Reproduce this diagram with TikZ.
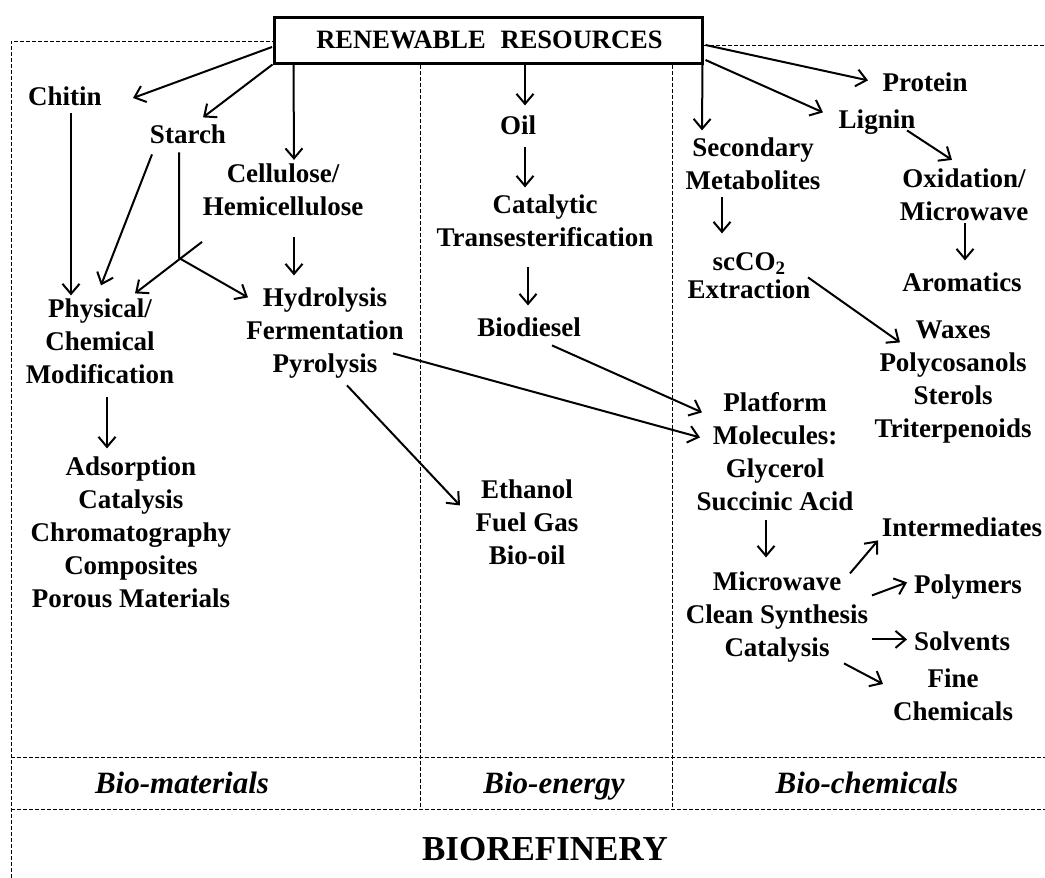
\documentclass[tikz,border=0pt]{standalone}
\usepackage{fontspec}
\setmainfont{Liberation Serif}
\usetikzlibrary{arrows.meta,calc}
\tikzset{
  txt/.style={font=\bfseries\fontsize{27}{33}\selectfont, align=center, inner sep=0pt,
    execute at begin node=\strut, execute at end node=\strut},
  lbl/.style={font=\bfseries\itshape\fontsize{31}{36}\selectfont, inner sep=0pt, anchor=base},
  arr/.style={-{Straight Barb[length=10pt,width=17pt,line width=2pt]}, line width=2pt},
  dline/.style={dash pattern=on 4pt off 2pt, line width=1pt}
}
\begin{document}
\begin{tikzpicture}[x=1pt,y=-1pt]
\useasboundingbox (0,0) rectangle (1045,878);
% header box
\node[draw, line width=3pt, minimum width=428, minimum height=46, inner sep=0pt,
      font=\bfseries\fontsize{26.5}{30}\selectfont] (rr) at (488,40) {\hspace{3pt}RENEWABLE\hspace{15pt}RESOURCES};
% frame
\draw[dline] (11,878) -- (11,41) -- (rr.west |- 0,41);
\draw[dline] (rr.east |- 0,45) -- (1045,45);
\draw[dline] (rr.south -| 420,0) -- (420,809);
\draw[dline] (rr.south -| 672,0) -- (672,809);
\draw[dline] (11,757) -- (1045,757);
\draw[dline] (11,809) -- (1045,809);
% nodes
\node[txt] (chitin)  at (65,98.4)   {Chitin};
\node[txt] (starch)  at (188,136.4) {Starch};
\node[txt] (cell)    at (283,194.9) {Cellulose/\\Hemicellulose};
\node[txt] (phys)    at (100,346.4) {Physical/\\Chemical\\Modification};
\node[txt] (ads)     at (131,537.4) {Adsorption\\Catalysis\\Chromatography\\Composites\\Porous Materials};
\node[txt] (hyd)     at (325,335.4) {Hydrolysis\\Fermentation\\Pyrolysis};
\node[txt] (oil)     at (518,127.4) {Oil};
\node[txt] (cat)     at (545,225.4) {Catalytic\\Transesterification};
\node[txt] (bio)     at (529,329.4) {Biodiesel};
\node[txt] (eth)     at (527,527.4) {Ethanol\\Fuel Gas\\Bio-oil};
\node[txt] (protein) at (925,84.4)  {Protein};
\node[txt] (lignin)  at (877,121.4) {Lignin};
\node[txt] (sec)     at (753,168.4) {Secondary\\Metabolites};
\node[txt] (oxi)     at (964,199.9) {Oxidation/\\Microwave};
\node[txt] (arom)    at (962,284.4) {Aromatics};
\node[txt] (sc)      at (749,280.4) {scCO\textsubscript{2}\\[-5pt]Extraction};
\node[txt] (wax)     at (953,384.4) {Waxes\\Polycosanols\\Sterols\\Triterpenoids};
\node[txt] (plat)    at (775,456.4) {Platform\\Molecules:\\Glycerol\\Succinic Acid};
\node[txt] (micro)   at (777,619.4) {Microwave\\Clean Synthesis\\Catalysis};
\node[txt] (inter)   at (962,529.4) {Intermediates};
\node[txt] (poly)    at (968,586.4) {Polymers};
\node[txt] (solv)    at (962,643.4) {Solvents};
\node[txt] (fine)    at (953,700)   {Fine\\Chemicals};
% bottom labels
\node[lbl] (lmat) at (182,793) {Bio-materials};
\node[lbl] (lene) at (554,793) {Bio-energy};
\node[lbl] (lche) at (867,793) {Bio-chemicals};
\node[font=\bfseries\fontsize{35}{40}\selectfont, inner sep=0pt, anchor=base] (bref) at (545,860) {BIOREFINERY};
% connectors
\draw[arr] ($(rr)+(-216,7)$) -- ($(chitin)+(68,-0.4)$);
\draw[arr] (rr.south west) -- ($(starch)+(15,-19)$);
\draw[arr] ($(rr.south west)+(21,0)$) -- ($(cell)+(11,-35)$);
\draw[arr] ($(chitin)+(6,15)$) -- ($(phys)+(-29,-51)$);
\draw[arr] ($(starch)+(-36,18)$) -- ($(phys)+(1,-61)$);
\coordinate (sj) at ($(starch)+(-9,121.6)$);
\draw[arr] ($(starch)+(-9,16)$) -- (sj) -- ($(hyd)+(-77,-38)$);
\draw[arr] ($(cell)+(-81,47)$) -- ($(phys)+(35,-53)$);
\draw[arr] ($(cell)+(11,42)$) -- ($(hyd)+(-31,-60)$);
\draw[arr] ($(phys)+(7,51)$) -- ($(ads)+(-24,-89)$);
\draw[arr] ($(hyd)+(68,18)$) -- ($(plat)+(-75,-19)$);
\draw[arr] ($(hyd)+(22,50)$) -- ($(eth)+(-67,-22)$);
\draw[arr] ($(rr.south)+(37,0)$) -- ($(oil)+(7,-22)$);
\draw[arr] ($(oil)+(7,20)$) -- ($(cat)+(-20,-38)$);
\draw[arr] ($(cat)+(-17,42)$) -- ($(bio)+(-1,-24)$);
\draw[arr] ($(bio)+(23,16)$) -- ($(plat)+(-73,-44)$);
\draw[arr] ($(rr.south east)+(-1,0)$) -- ($(sec)+(-51,-38)$);
\draw[arr] ($(rr.east)+(2,5)$) -- ($(protein)+(-57,-4)$);
\draw[arr] ($(rr.east)+(2,20)$) -- ($(lignin)+(-54,-9)$);
\draw[arr] ($(lignin)+(30,9)$) -- ($(oxi)+(-12,-40)$);
\draw[arr] ($(sec)+(-31,29)$) -- ($(sc)+(-27,-47)$);
\draw[arr] ($(oxi)+(1,23)$) -- ($(arom)+(3,-24)$);
\draw[arr] ($(sc)+(59,-3)$) -- ($(wax)+(-53,-42)$);
\draw[arr] ($(plat)+(-9,64)$) -- ($(micro)+(-11,-62)$);
\draw[arr] ($(micro)+(73,-46)$) -- ($(inter)+(-84,11)$);
\draw[arr] ($(micro)+(95,-24)$) -- ($(poly)+(-61,-4)$);
\draw[arr] ($(micro)+(95,20)$) -- ($(solv)+(-55,-4)$);
\draw[arr] ($(micro)+(67,44)$) -- ($(fine)+(-70,-16)$);
\end{tikzpicture}
\end{document}
